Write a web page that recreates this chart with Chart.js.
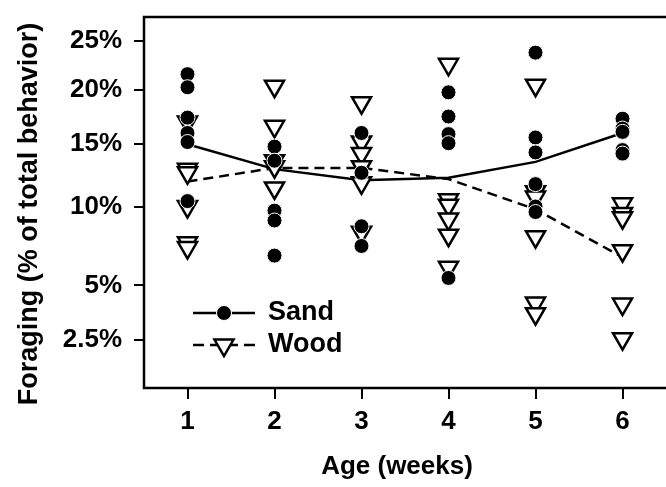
<!DOCTYPE html>
<html>
<head>
<meta charset="utf-8">
<script src="https://cdn.jsdelivr.net/npm/chart.js@4.4.1/dist/chart.umd.min.js"></script>
<style>
  html, body { margin: 0; padding: 0; background: #fff; overflow: hidden; }
  #wrap { width: 666px; height: 487px; position: relative; }
  #chart { display: block; }
</style>
</head>
<body>
<div id="wrap"><canvas id="chart"></canvas></div>
<script>
// weeks on the x axis
const weeks = [1, 2, 3, 4, 5, 6];
const xTickLabels = ["1", "2", "3", "4", "5", "6"];
const xTitle = "Age (weeks)";

// individual observations, % of total behavior (one row per week)
const sandPoints = [
    [21.6, 20.3, 17.4, 16.0, 15.2, 10.4],
    [14.8, 13.6, 9.7, 9.0, 6.7],
    [16.0, 12.6, 8.6, 7.3],
    [19.8, 17.5, 15.9, 15.1, 5.4],
    [23.8, 15.6, 14.3, 11.7, 10.0, 9.6],
    [17.3, 16.4, 16.1, 14.5, 14.2]
];
const woodPoints = [
    [17.0, 12.9, 12.6, 10.0, 7.5, 7.2],
    [20.4, 16.6, 13.6, 13.1, 11.4],
    [18.8, 15.2, 14.2, 13.1, 11.8, 8.2],
    [22.6, 10.5, 10.1, 9.1, 8.0, 6.0],
    [20.5, 11.1, 10.7, 7.9, 4.1, 3.6],
    [10.2, 9.5, 9.2, 7.0, 4.05, 2.55]
];

// fitted means per week
const sandMean = [15.0, 12.9, 12.0, 12.2, 13.5, 16.0];
const woodMean = [11.9, 13.0, 13.0, 12.1, 9.8, 6.6];

// y axis ticks (percent)
const yTicks = [2.5, 5, 10, 15, 20, 25];
const yTickLabels = ["2.5%", "5%", "10%", "15%", "20%", "25%"];
const yTitle = "Foraging (% of total behavior)";

// the y axis is arcsine-square-root scaled
const asr = p => Math.asin(Math.sqrt(p / 100));

const FAMILY = "'Liberation Sans', Arial, sans-serif";
const FONT = { family: FAMILY, size: 26, weight: "bold" };

function toPoints(rows) {
    const pts = [];
    rows.forEach((row, i) => {
        row.forEach(v => pts.push({ x: weeks[i], y: asr(v) }));
    });
    return pts;
}

const sandDataset = {
    label: "Sand",
    data: toPoints(sandPoints),
    pointStyle: "circle",
    pointRadius: 7.5,
    backgroundColor: "#000",
    borderColor: "#fff",
    borderWidth: 1,
    showLine: false
};
const woodDataset = {
    label: "Wood",
    data: toPoints(woodPoints),
    pointStyle: "triangle",
    rotation: 180,
    pointRadius: 11,
    backgroundColor: "#fff",
    borderColor: "#000",
    borderWidth: 2.5,
    showLine: false
};
const sandLine = {
    label: "Sand mean",
    data: sandMean.map((v, i) => ({ x: weeks[i], y: asr(v) })),
    showLine: true,
    borderColor: "#000",
    borderWidth: 2.5,
    pointRadius: 0
};
const woodLine = {
    label: "Wood mean",
    data: woodMean.map((v, i) => ({ x: weeks[i], y: asr(v) })),
    showLine: true,
    borderColor: "#000",
    borderWidth: 2.5,
    borderDash: [10, 6],
    pointRadius: 0
};

// box around the plot area (right side falls off the picture) and axis titles
const framePlugin = {
    id: "frame",
    afterDraw(chart) {
        const { ctx, chartArea: a } = chart;
        ctx.save();
        ctx.strokeStyle = "#000";
        ctx.lineWidth = 2.5;
        ctx.beginPath();
        ctx.moveTo(a.right + 2, a.top);
        ctx.lineTo(a.left, a.top);
        ctx.lineTo(a.left, a.bottom);
        ctx.lineTo(a.right + 2, a.bottom);
        ctx.stroke();
        ctx.fillStyle = "#000";
        ctx.textAlign = "center";
        ctx.textBaseline = "middle";
        // x axis title, a little left of the plot centre like the original
        ctx.font = `bold 26px ${FAMILY}`;
        ctx.fillText(xTitle, 397, 467);
        // y axis title, centred a bit below the plot middle
        ctx.font = `bold 27px ${FAMILY}`;
        ctx.translate(30, 214);
        ctx.rotate(-Math.PI / 2);
        ctx.fillText(yTitle, 0, 0);
        ctx.restore();
    }
};

// legend drawn inside the plot, bottom left
const legendPlugin = {
    id: "innerLegend",
    afterDatasetsDraw(chart) {
        const { ctx, chartArea: a } = chart;
        const rows = [
            { ds: sandDataset, dash: [], y: a.bottom - 75 },
            { ds: woodDataset, dash: [11, 6], y: a.bottom - 43 }
        ];
        ctx.save();
        rows.forEach(r => {
            const x0 = a.left + 49, x1 = a.left + 111, xm = a.left + 80;
            ctx.strokeStyle = "#000";
            ctx.lineWidth = 2.5;
            ctx.setLineDash(r.dash);
            ctx.beginPath();
            ctx.moveTo(x0, r.y);
            ctx.lineTo(x1, r.y);
            ctx.stroke();
            ctx.setLineDash([]);
            ctx.fillStyle = r.ds.backgroundColor;
            ctx.strokeStyle = r.ds.borderColor;
            ctx.lineWidth = r.ds.borderWidth;
            Chart.helpers.drawPoint(ctx, {
                pointStyle: r.ds.pointStyle,
                rotation: r.ds.rotation || 0,
                radius: r.ds.pointRadius,
                borderWidth: r.ds.borderWidth
            }, xm, r.y);
            ctx.fillStyle = "#000";
            ctx.font = `bold 27px ${FAMILY}`;
            ctx.textBaseline = "middle";
            ctx.textAlign = "left";
            ctx.fillText(r.ds.label, a.left + 124, r.y);
        });
        ctx.restore();
    }
};

new Chart(document.getElementById("chart"), {
    type: "scatter",
    data: { datasets: [sandDataset, woodDataset, sandLine, woodLine] },
    options: {
        responsive: true,
        maintainAspectRatio: false,
        animation: false,
        events: [],
        layout: { autoPadding: false, padding: { top: 17, right: -1, left: 0, bottom: 0 } },
        plugins: { legend: { display: false }, tooltip: { enabled: false } },
        scales: {
            x: {
                type: "linear",
                min: 0.5,
                max: 6.5,
                afterBuildTicks: axis => { axis.ticks = weeks.map(w => ({ value: w })); },
                afterFit: axis => { axis.height = 99; axis.paddingLeft = 0; axis.paddingRight = 0; },
                ticks: { callback: (v, i) => xTickLabels[i], color: "#000", font: FONT, padding: 7, autoSkip: false, maxRotation: 0 },
                grid: { drawOnChartArea: false, drawTicks: true, tickLength: 11, color: "#000", lineWidth: 2 },
                border: { display: false }
            },
            y: {
                type: "linear",
                min: asr(1.0),
                max: asr(27.6),
                afterBuildTicks: axis => { axis.ticks = yTicks.map(v => ({ value: asr(v) })); },
                afterFit: axis => { axis.width = 144; axis.paddingTop = 0; axis.paddingBottom = 0; },
                ticks: { callback: (v, i) => yTickLabels[i], color: "#000", font: FONT, padding: 12, autoSkip: false },
                grid: { drawOnChartArea: false, drawTicks: true, tickLength: 10, color: "#000", lineWidth: 2 },
                border: { display: false }
            }
        }
    },
    plugins: [framePlugin, legendPlugin]
});
</script>
</body>
</html>
